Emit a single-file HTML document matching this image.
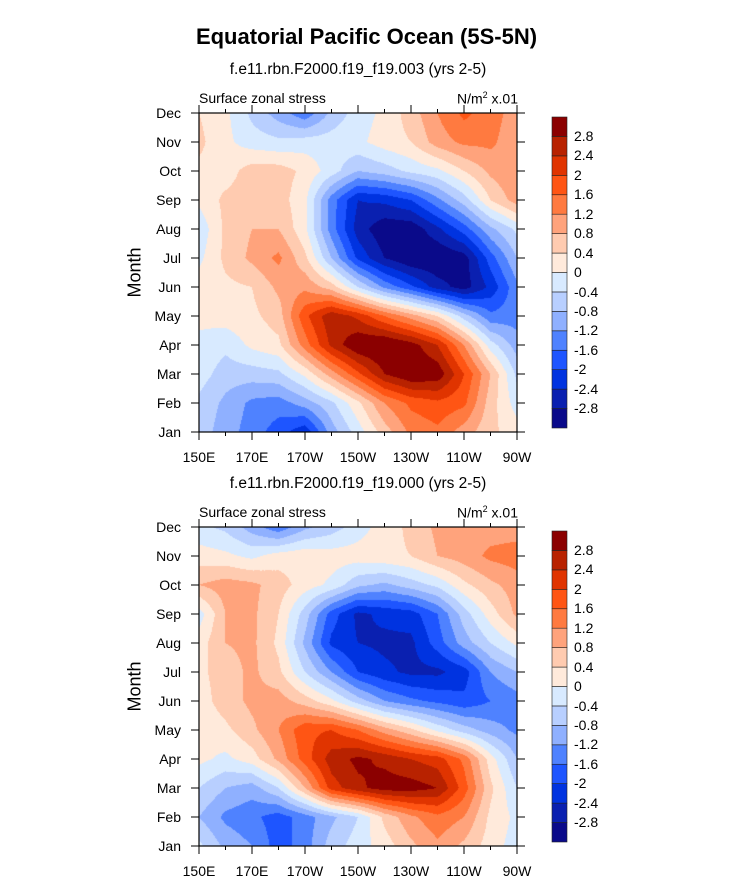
<!DOCTYPE html>
<html><head><meta charset="utf-8"><style>
body{margin:0;background:#fff;font-family:"Liberation Sans",sans-serif;}
#root{position:relative;width:733px;height:890px;overflow:hidden;}
.t{position:absolute;white-space:nowrap;color:#000;}
canvas{position:absolute;}
</style></head><body>
<div id="root">
<div class="t" style="left:0;width:733px;text-align:center;top:24px;font-size:22px;font-weight:bold;">Equatorial Pacific Ocean (5S-5N)</div>
<svg id="svg" width="733" height="890" style="position:absolute;left:0;top:0"></svg>
</div>
<script>
// ---- data ----
const months=["Jan","Feb","Mar","Apr","May","Jun","Jul","Aug","Sep","Oct","Nov","Dec"];
const lonTickLabels=["150E","170E","170W","150W","130W","110W","90W"];
const lons=[150,160,170,180,190,200,210,220,230,240,250,260,270];
const levels=[-2.8,-2.4,-2,-1.6,-1.2,-0.8,-0.4,0,0.4,0.8,1.2,1.6,2,2.4,2.8];
const levelLabels=["-2.8","-2.4","-2","-1.6","-1.2","-0.8","-0.4","0","0.4","0.8","1.2","1.6","2","2.4","2.8"];
const colors=["#0a0a8a","#0a20b0","#0033e0","#1e55ff","#4f82ff","#8fb0ff","#b8cfff","#d8eaff","#ffeadb","#ffcbb0","#ffa37c","#ff7a40","#ff5514","#e03400","#b82200","#8b0000"];
const data003=[
[-0.6,-1.0,-1.4,-1.8,-2.3,-1.0,-0.2,0.6,1.3,1.5,1.0,0.5,0.2],
[-0.5,-0.9,-1.3,-1.4,-1.0,-0.5,0.3,1.2,1.7,1.9,1.7,0.6,-0.2],
[-0.2,-0.6,-0.6,-0.5,0.1,1.0,1.9,2.8,3.2,3.1,2.0,0.8,-0.5],
[-0.1,-0.3,0.1,0.3,1.4,2.5,3.2,3.3,3.0,2.4,1.2,-0.2,-1.0],
[0.1,0.2,0.3,0.6,1.9,2.7,2.3,1.6,1.0,0.4,-0.6,-1.5,-1.4],
[0.2,0.3,0.4,0.9,1.1,0.6,-0.4,-1.3,-1.9,-2.6,-3.0,-2.3,-1.3],
[-0.1,0.5,0.9,1.3,0.5,-0.8,-2.1,-2.8,-3.2,-3.2,-3.0,-1.8,-0.8],
[-0.3,0.5,0.8,0.8,0.1,-1.4,-2.6,-3.1,-3.1,-2.5,-1.8,-0.9,-0.3],
[0.1,0.5,0.6,0.6,0.1,-1.4,-2.4,-2.3,-2.0,-1.3,-0.6,0.4,1.0],
[0.3,0.2,0.6,0.6,0.3,-0.2,-0.8,-0.6,-0.3,-0.1,0.4,0.9,1.2],
[0.5,0.1,-0.2,-0.3,-0.2,-0.2,-0.1,0.2,0.4,1.0,1.3,1.3,0.9],
[0.4,0.1,-0.5,-1.0,-1.5,-0.7,-0.2,0.1,0.6,1.2,1.7,1.4,1.0]];
const data000=[
[-0.3,-0.9,-1.2,-1.8,-1.4,-0.6,-0.2,0.2,0.7,1.1,0.7,0.2,-0.2],
[-0.8,-1.3,-1.5,-1.8,-1.4,-0.9,-0.4,0.5,1.1,1.5,1.2,0.3,-0.1],
[-0.4,-0.8,-1.0,-0.4,0.8,2.2,2.7,3.0,3.0,2.8,1.8,0.5,-0.4],
[0.1,-0.1,0.2,0.9,1.8,2.6,2.9,2.7,2.4,2.2,1.5,0.2,-0.8],
[0.1,0.3,0.7,1.2,1.9,2.0,1.6,1.0,0.5,-0.1,-0.6,-1.0,-1.3],
[0.2,0.6,0.9,1.0,0.6,0.1,-0.6,-1.2,-1.5,-1.7,-1.9,-1.6,-1.4],
[0.3,0.6,0.9,0.5,-0.4,-1.2,-2.0,-2.3,-2.5,-2.5,-2.2,-1.2,-0.8],
[0.2,0.8,0.9,0.3,-0.9,-2.1,-2.4,-2.5,-2.5,-1.8,-1.0,-0.4,0.1],
[-0.2,0.8,0.9,0.4,-0.6,-1.8,-2.5,-2.3,-2.2,-1.6,-0.6,0.2,0.9],
[0.8,1.0,0.9,0.6,0.2,-0.1,-0.7,-0.9,-0.6,-0.3,0.3,0.7,1.0],
[0.2,0.1,-0.1,0.2,0.3,0.2,0.2,0.3,0.4,0.8,1.0,1.3,1.4],
[-0.3,-0.5,-1.0,-1.5,-0.9,-0.6,-0.2,0.2,0.5,0.9,0.9,1.0,1.0]];

const NS="http://www.w3.org/2000/svg";
const root=document.getElementById('root');
const svg=document.getElementById('svg');
const PX0=199,PX1=517,PW=PX1-PX0,PH=319;
function hex(c){return [parseInt(c.substr(1,2),16),parseInt(c.substr(3,2),16),parseInt(c.substr(5,2),16)];}
function sv(tag,attrs){const e=document.createElementNS(NS,tag);for(const k in attrs)e.setAttribute(k,attrs[k]);svg.appendChild(e);return e;}
function txt(s,x,y,size,anchor,name){const e=document.createElement('div');e.className='t';e.textContent=s;e.style.fontSize=size+'px';e.style.top=(y-size*0.6)+'px';
 if(anchor==='middle'){e.style.left=(x-200)+'px';e.style.width='400px';e.style.textAlign='center';}
 else if(anchor==='end'){e.style.left=(x-200)+'px';e.style.width='200px';e.style.textAlign='right';}
 else e.style.left=x+'px';
 
 
 root.appendChild(e);return e;}

function panel(data,top,sub,key){
 const xs=lon=>PX0+(lon-150)/120*PW;
 const ys=m=>top+PH-m/11*PH;
 const cv=document.createElement('canvas');cv.width=PW;cv.height=PH;cv.style.left=PX0+'px';cv.style.top=top+'px';
 
 
 root.insertBefore(cv,svg);
 const ctx=cv.getContext('2d');const img=ctx.createImageData(PW,PH);
 const rgb=colors.map(hex);
 for(let py=0;py<PH;py++){for(let px=0;px<PW;px++){
  const lon=150+(px+0.5)/PW*120, m=(PH-py-0.5)/PH*11;
  const fi=(lon-150)/10, i0=Math.min(11,Math.floor(fi)), tx=fi-i0;
  const j0=Math.min(10,Math.floor(m)), ty=m-j0;
  const v=(data[j0][i0]*(1-tx)+data[j0][i0+1]*tx)*(1-ty)+(data[j0+1][i0]*(1-tx)+data[j0+1][i0+1]*tx)*ty;
  let k=0;while(k<levels.length&&v>=levels[k])k++;
  const c=rgb[k],o=(py*PW+px)*4;img.data[o]=c[0];img.data[o+1]=c[1];img.data[o+2]=c[2];img.data[o+3]=255;}}
 ctx.putImageData(img,0,0);
 const fr=sv('rect',{x:PX0,y:top,width:PW,height:PH,fill:'none',stroke:'#000','stroke-width':1.2});
 
 
 for(let lon=150;lon<=270;lon+=10){const x=xs(lon),maj=(lon-150)%20===0,L=maj?8:4;
  const t1=sv('line',{x1:x,x2:x,y1:top+PH,y2:top+PH+L,stroke:'#000','stroke-width':1});
  
  
  const t2=sv('line',{x1:x,x2:x,y1:top,y2:top-L,stroke:'#000','stroke-width':1});
  
  }
 lonTickLabels.forEach((s,i)=>txt(s,xs(150+i*20),top+PH+25,14,'middle',key+'-x-tick-label'));
 months.forEach((s,m)=>{const y=ys(m);
  const t1=sv('line',{x1:PX0-8,x2:PX0,y1:y,y2:y,stroke:'#000','stroke-width':1});
  
  
  const t2=sv('line',{x1:PX1,x2:PX1+8,y1:y,y2:y,stroke:'#000','stroke-width':1});
  
  
  txt(s,181,y,14,'end',key+'-month-label');});
 const yl=txt('Month',0,top+PH/2,18,'middle',key+'-y-axis-title');yl.style.left=(135-200)+'px';yl.style.transform='rotate(-90deg)';
 txt(sub,358,top-43,15.5,'middle',key+'-subtitle');
 txt('Surface zonal stress',PX0,top-15,14,'start',key+'-variable-label');
 const u=txt('',PX1+1,top-15,14,'end',key+'-units-label');u.innerHTML='N/m<sup style="font-size:9px">2</sup> x.01';
 const cbTop=top+4,cbH=311,bx=552,bw=15,n=colors.length,bh=cbH/n;
 colors.forEach((c,i)=>{const r=sv('rect',{x:bx,y:cbTop+cbH-(i+1)*bh,width:bw,height:bh,fill:c,stroke:'#222','stroke-width':0.6});
  
  });
 levelLabels.forEach((s,i)=>txt(s,574,cbTop+cbH-(i+1)*bh,14,'start',key+'-colorbar-label'));
}
panel(data003,113,'f.e11.rbn.F2000.f19_f19.003 (yrs 2-5)','top-panel');
panel(data000,527,'f.e11.rbn.F2000.f19_f19.000 (yrs 2-5)','bottom-panel');
</script>
</body></html>
